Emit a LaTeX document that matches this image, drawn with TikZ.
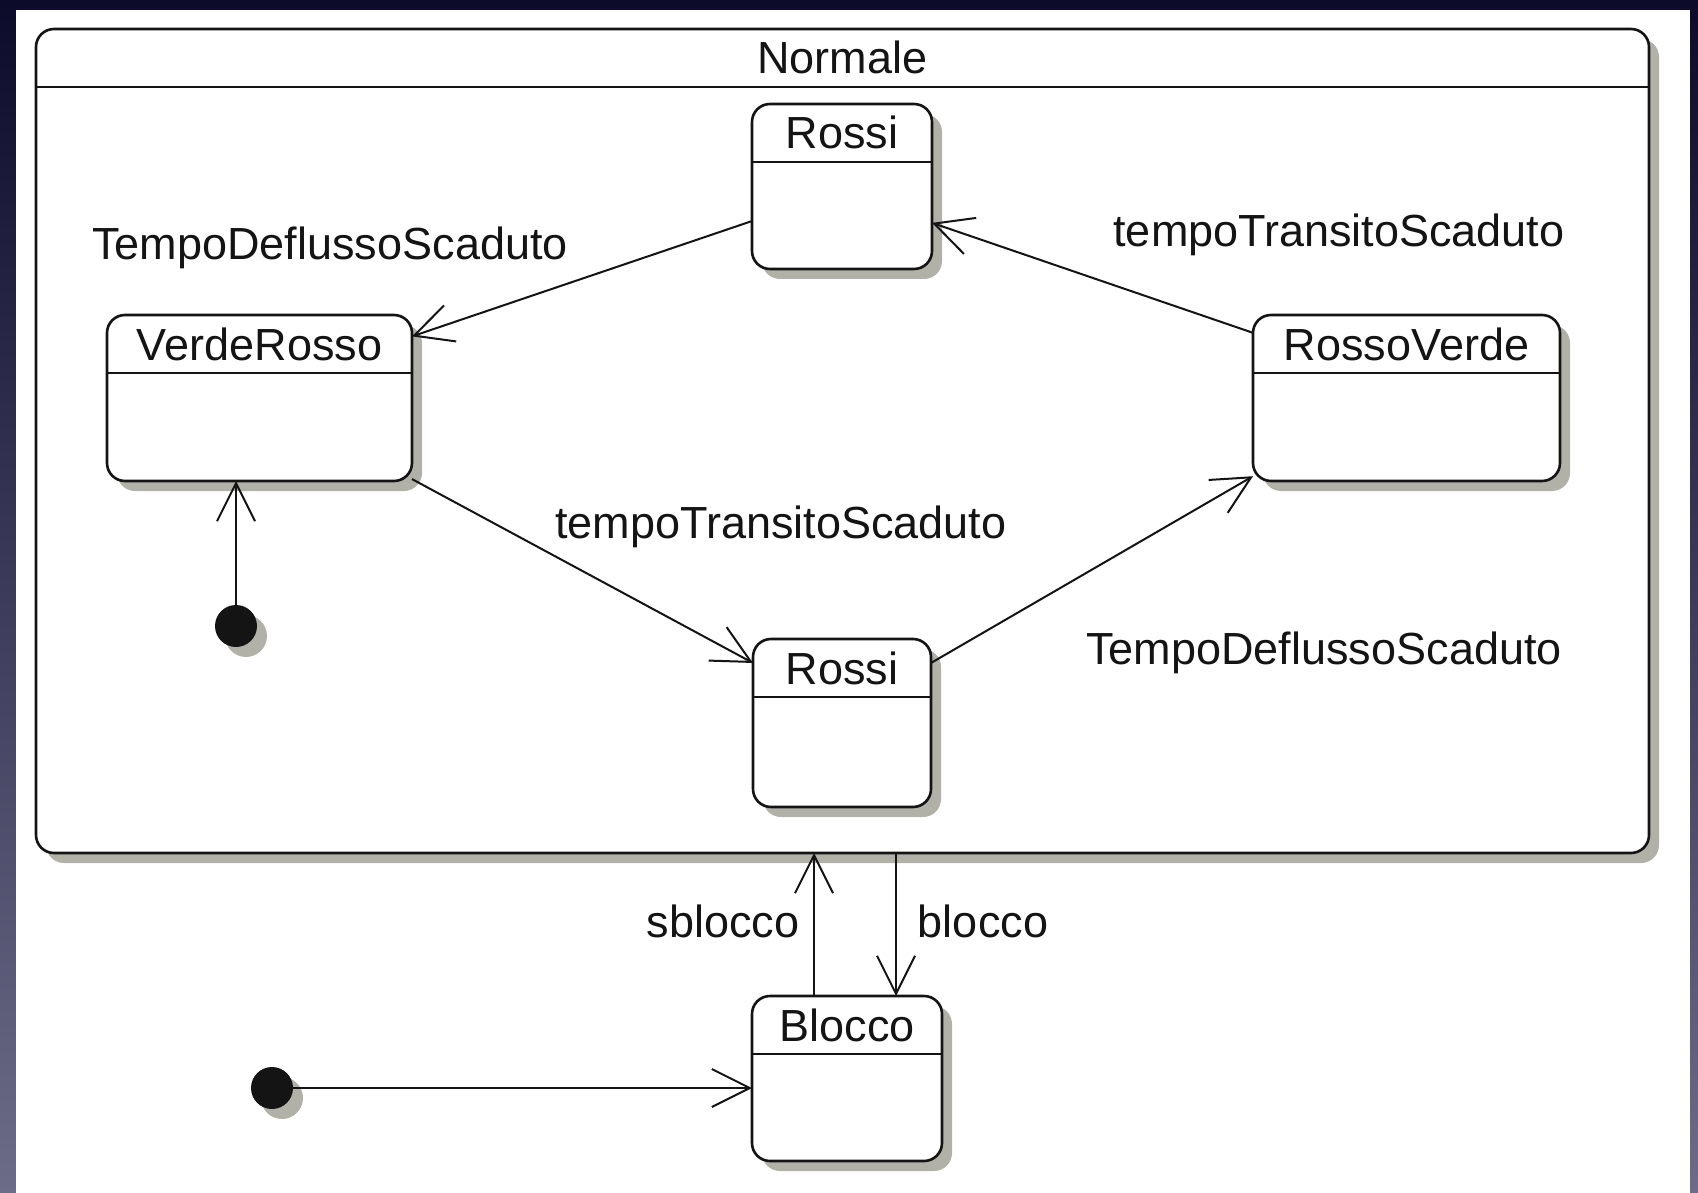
\documentclass[tikz,border=0pt]{standalone}
\usepackage{fontspec}
\setmainfont{Liberation Sans}
\usetikzlibrary{arrows.meta,calc}
\definecolor{shad}{HTML}{B2B1A8}
\definecolor{navytop}{HTML}{0C0B2A}
\definecolor{navybot}{HTML}{6C6B88}
\definecolor{ink}{HTML}{141414}
\newcommand\mkstate[6]{%
  \fill[shad, rounded corners=18pt] (#2-#4/2+10, #3-#5/2+10) rectangle (#2+#4/2+10, #3+#5/2+10);
  \node[statebox, minimum width=#4pt, minimum height=#5pt] (#1) at (#2,#3) {};
  \draw[line width=2.2pt, ink] ([yshift=-58pt]#1.north west) -- ([yshift=-58pt]#1.north east);
  \node[lbl] (#1-t) at ([yshift=-45pt]#1.north) {#6};
}
\begin{document}
\begin{tikzpicture}[x=1pt,y=-1pt,
  lbl/.style={font=\fontsize{45}{52}\selectfont, text=ink, anchor=base, inner sep=0pt},
  statebox/.style={draw=ink, line width=2.6pt, fill=white, rounded corners=18pt, inner sep=0pt, outer sep=0pt},
  conn/.style={draw=ink, line width=2pt, -{Straight Barb[length=38pt,width=38pt,line width=2pt]}},
  initdot/.style={circle, fill=ink, minimum size=42pt, inner sep=0pt, outer sep=0pt},
]
\useasboundingbox (0,0) rectangle (1698,1193);
\shade[top color=navytop, bottom color=navybot] (0,0) rectangle (1698,1193);
\fill[white] (16,10) rectangle (1690,1193);

\mkstate{nm}{842.5}{441}{1613}{824}{Normale}
\mkstate{rt}{842}{186.5}{180}{165}{Rossi}
\mkstate{vr}{259.5}{398}{305}{166}{VerdeRosso}
\mkstate{rv}{1406.5}{398}{307}{166}{RossoVerde}
\mkstate{rb}{842}{723}{178}{168}{Rossi}
\mkstate{bl}{847}{1078.5}{190}{165}{Blocco}

\fill[shad] (246,636) circle (21pt);
\node[initdot] (i1) at (236,626) {};
\fill[shad] (282,1098) circle (21pt);
\node[initdot] (i2) at (272,1088) {};

\draw[conn] (rt.201.7) -- (vr.22.5);
\draw[conn] (rv.157.7) -- (rt.338.5);
\draw[conn] (vr.332.4) -- (rb.146);
\draw[conn] (rb.34.9) -- (rv.207.1);
\draw[conn] (i1) -- (i1 |- vr.south);
\draw[conn] (i2) -- (i2 -| bl.west);
\draw[conn] ([xshift=-33pt]bl.north) -- ([xshift=-33pt]bl.north |- nm.south);
\draw[conn] ([xshift=49pt]bl.north |- nm.south) -- ([xshift=49pt]bl.north);

\node[lbl] (l1) at (330,260) {TempoDeflussoScaduto};
\node[lbl] (l2) at (1339,247) {tempoTransitoScaduto};
\node[lbl] (l3) at (781,538) {tempoTransitoScaduto};
\node[lbl] (l4) at (1324,664) {TempoDeflussoScaduto};
\node[lbl] (l5) at (723,937) {sblocco};
\node[lbl] (l6) at (983,937) {blocco};
\end{tikzpicture}
\end{document}
